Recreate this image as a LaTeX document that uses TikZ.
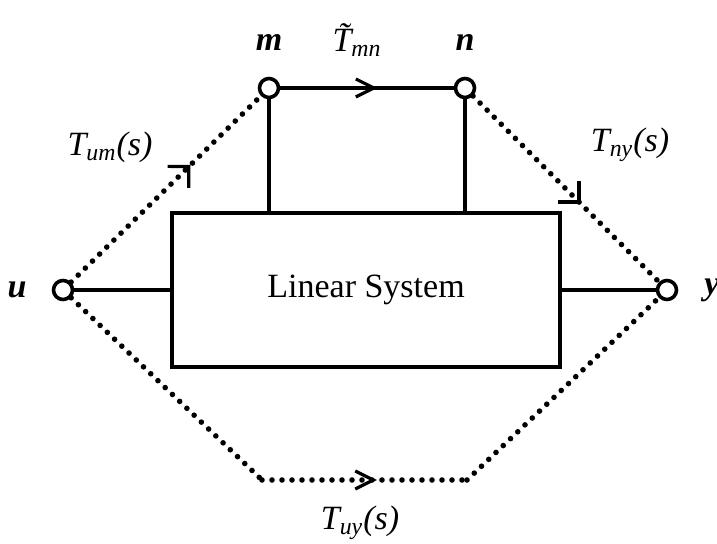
\documentclass[tikz,border=0pt]{standalone}
\usepackage{fontspec}
\setmainfont{Liberation Serif}
\usetikzlibrary{arrows.meta,positioning,decorations.markings}
\tikzset{
  % small open circle for a signal point
  port/.style    = {circle, draw, line width=1.8pt, inner sep=0pt, minimum size=9.5pt},
  sysbox/.style  = {rectangle, draw, line width=2pt, minimum width=194pt, minimum height=77pt,
                    font=\fontsize{17}{20}\selectfont},
  wire/.style    = {line width=2pt},
  dots/.style    = {line width=2.8pt, line cap=round, dash pattern=on 0pt off 5pt},
  lbl/.style     = {font=\fontsize{17}{20}\selectfont\itshape, inner sep=1pt},
  ptlbl/.style   = {lbl, font=\fontsize{17}{20}\selectfont\itshape\bfseries},
  flowtip/.style = {line width=1.6pt, postaction={decorate},
                    decoration={markings, mark=at position #1 with
                    {\arrow{Straight Barb[length=9pt, width=9pt]}}}},
  slanttip/.style = {line width=1.6pt, postaction={decorate},
                    decoration={markings, mark=at position #1 with
                    {\arrow{Straight Barb[length=7.5pt, width=15pt]}}}},
}
\newcommand{\tfunc}[1]{\textit{T}\textsubscript{\textit{#1}}(\textit{s})}

\begin{document}
\begin{tikzpicture}[x=0.5pt, y=-0.5pt]
\useasboundingbox (0,0) rectangle (717,544);
% block and the four signal points
\node[sysbox] (sys) at (366,290) {Linear System};
\node[port] (u) at (63,290)  {};
\node[port] (y) at (667,290) {};
\node[port] (m) at (269,88)  {};
\node[port] (n) at (465,88)  {};
\coordinate (bl) at (262,480);
\coordinate (br) at (467,480);

% solid connections
\draw[wire] (u) -- (sys.west);
\draw[wire] (sys.east |- y) -- (y);
\draw[wire] (m.south) -- (m.south |- sys.north);
\draw[wire] (n.south) -- (n.south |- sys.north);
\draw[wire] (m) -- (n);

% transfer paths
\draw[dots] (u) -- (m);
\draw[dots] (n) -- (y);
\draw[dots] (u) -- (bl);
\draw[dots] (bl) -- (br);
\draw[dots] (br) -- (y);

% direction marks
\path[flowtip=0.56] (m) -- (n);
\path[slanttip=0.63] (u) -- (m);
\path[slanttip=0.58] (n) -- (y);
\path[flowtip=0.56] (bl) -- (br);

% labels
\node[ptlbl, above=12pt of m] (mlbl) {m};
\node[ptlbl, above=12pt of n] (nlbl) {n};
\node[ptlbl] (ulbl) at (17,290)  {u};
\node[ptlbl] (ylbl) at (712,290) {y};
\node[lbl] (tmn) at (357,40)  {\~{T}\textsubscript{mn}};
\node[lbl] (tum) at (110,147) {\tfunc{um}};
\node[lbl] (tny) at (630,145) {\tfunc{ny}};
\node[lbl] (tuy) at (360,523) {\tfunc{uy}};
\end{tikzpicture}
\end{document}
